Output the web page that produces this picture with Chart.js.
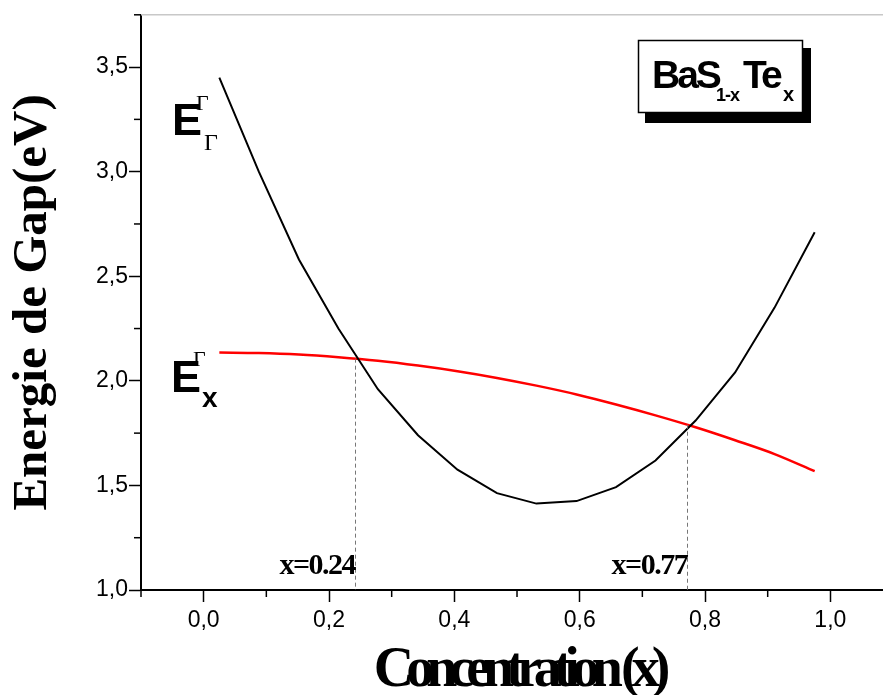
<!DOCTYPE html>
<html>
<head>
<meta charset="utf-8">
<script src="https://cdn.jsdelivr.net/npm/chart.js@4"></script>
<style>
  body { margin: 0; background: #fff; }
  #conteneur { width: 883px; height: 695px; }
</style>
</head>
<body>
<div id="conteneur"><canvas id="graficoGap"></canvas></div>
<script>
// concentration x de BaS(1-x)Te(x)
var concentracoes = [0.025, 0.088, 0.152, 0.215, 0.278, 0.342, 0.405, 0.468, 0.531, 0.595, 0.658, 0.721, 0.785, 0.848, 0.911, 0.975];
// gap direct Gamma-Gamma (eV)
var gapGammaGamma = [3.45, 3.00, 2.58, 2.25, 1.96, 1.74, 1.575, 1.463, 1.413, 1.425, 1.492, 1.619, 1.81, 2.04, 2.35, 2.71];
// gap indirect Gamma-X (eV)
var gapGammaX = [2.135, 2.133, 2.126, 2.113, 2.096, 2.073, 2.046, 2.014, 1.977, 1.935, 1.887, 1.835, 1.778, 1.716, 1.650, 1.568];

// points de croisement des deux gaps
var croisementX = [0.24, 0.77];
var croisementY = [2.106, 1.79];
var croisementTexte = ["x=0.24", "x=0.77"];

var xTicks = [0.0, 0.2, 0.4, 0.6, 0.8, 1.0];
var xTicksMineurs = [-0.1, 0.1, 0.3, 0.5, 0.7, 0.9];
var yTicks = [1.0, 1.5, 2.0, 2.5, 3.0, 3.5];
var yTicksMineurs = [1.25, 1.75, 2.25, 2.75, 3.25, 3.75];

var policeTicks = "'Liberation Sans', Arial, sans-serif";
var policeSerif = "'Liberation Serif', 'Times New Roman', serif";

function virgule(v) {
  return v.toFixed(1).replace(".", ",");
}

var dados = {
  datasets: [
    {
      label: "E Gamma-Gamma",
      data: concentracoes.map(function (x, i) { return { x: x, y: gapGammaGamma[i] }; }),
      borderColor: "#000",
      borderWidth: 2,
      pointRadius: 0,
      tension: 0,
    },
    {
      label: "E Gamma-X",
      data: concentracoes.map(function (x, i) { return { x: x, y: gapGammaX[i] }; }),
      borderColor: "#ff0000",
      borderWidth: 2.5,
      pointRadius: 0,
      cubicInterpolationMode: "monotone",
    },
  ],
};

// ticks mineurs, cadre du haut, pointillés et annotations
var decor = {
  id: "decor",
  afterDraw: function (chart) {
    var ctx = chart.ctx;
    var sx = chart.scales.x;
    var sy = chart.scales.y;
    var area = chart.chartArea;

    ctx.save();
    ctx.strokeStyle = "#000";
    ctx.lineWidth = 1.5;
    xTicksMineurs.forEach(function (v) {
      var px = sx.getPixelForValue(v);
      if (px < area.left - 1 || px > area.right) return;
      ctx.beginPath();
      ctx.moveTo(px, area.bottom);
      ctx.lineTo(px, area.bottom + 7);
      ctx.stroke();
    });
    yTicksMineurs.forEach(function (v) {
      var py = sy.getPixelForValue(v);
      ctx.beginPath();
      ctx.moveTo(area.left, py);
      ctx.lineTo(area.left - 7, py);
      ctx.stroke();
    });

    // cadre du haut
    ctx.strokeStyle = "#c8c8c8";
    ctx.lineWidth = 1.5;
    ctx.beginPath();
    ctx.moveTo(area.left, area.top);
    ctx.lineTo(area.right, area.top);
    ctx.stroke();

    // lignes de croisement
    ctx.strokeStyle = "#777";
    ctx.lineWidth = 1;
    ctx.setLineDash([4, 3]);
    for (var i = 0; i < croisementX.length; i++) {
      var cx = Math.round(sx.getPixelForValue(croisementX[i])) + 1.5;
      ctx.beginPath();
      ctx.moveTo(cx, sy.getPixelForValue(croisementY[i]));
      ctx.lineTo(cx, area.bottom);
      ctx.stroke();
    }
    ctx.setLineDash([]);

    ctx.fillStyle = "#000";
    ctx.textBaseline = "alphabetic";
    ctx.textAlign = "right";
    ctx.font = "bold 30px " + policeSerif;
    ctx.letterSpacing = "-1.5px";
    for (var j = 0; j < croisementX.length; j++) {
      ctx.fillText(croisementTexte[j], sx.getPixelForValue(croisementX[j]) + 1, 574);
    }
    ctx.letterSpacing = "0px";

    // étiquettes des courbes
    ctx.textAlign = "left";
    ctx.font = "bold 45px " + policeTicks;
    ctx.fillText("E", 172, 135);
    ctx.fillText("E", 171, 392);
    ctx.font = "22px " + policeSerif;
    ctx.fillText("Γ", 196, 110);
    ctx.fillText("Γ", 193, 366);
    ctx.font = "24px " + policeSerif;
    ctx.fillText("Γ", 204, 150);
    ctx.font = "bold 28px " + policeTicks;
    ctx.fillText("x", 202, 407);

    // cartouche du composé
    ctx.fillRect(645, 113, 166, 10);
    ctx.fillRect(803, 48, 8, 75);
    ctx.fillStyle = "#fff";
    ctx.fillRect(638, 40, 165, 73);
    ctx.strokeStyle = "#000";
    ctx.lineWidth = 1.5;
    ctx.strokeRect(638.5, 40.5, 164, 72);
    ctx.fillStyle = "#000";
    ctx.font = "bold 39px " + policeTicks;
    ctx.letterSpacing = "-3px";
    ctx.fillText("BaS", 652, 88);
    ctx.fillText("Te", 743, 88);
    ctx.letterSpacing = "-1px";
    ctx.font = "bold 18px " + policeTicks;
    ctx.fillText("1-x", 716, 101);
    ctx.font = "bold 20px " + policeTicks;
    ctx.fillText("x", 783, 101);

    // titre de l'axe x
    ctx.textAlign = "center";
    ctx.font = "bold 56px " + policeSerif;
    ctx.letterSpacing = "-8px";
    ctx.fillText("Concentration (x)", 518, 686);
    ctx.restore();
  },
};

var config = {
  type: "line",
  data: dados,
  options: {
    responsive: true,
    maintainAspectRatio: false,
    animation: false,
    layout: { padding: { top: 13, left: 0, right: 0, bottom: 0 } },
    plugins: {
      legend: { display: false },
      tooltip: { enabled: false },
    },
    scales: {
      x: {
        type: "linear",
        min: -0.1,
        max: 1.084,
        afterBuildTicks: function (s) {
          s.ticks = xTicks.map(function (v) { return { value: v }; });
        },
        afterFit: function (s) {
          s.height = 105;
        },
        grid: { drawOnChartArea: false, tickLength: 12, tickWidth: 1.5, tickColor: "#000" },
        border: { color: "#000", width: 2 },
        ticks: {
          color: "#000",
          padding: 5,
          maxRotation: 0,
          font: { family: policeTicks, size: 23 },
          callback: function (v) { return virgule(v); },
        },
      },
      y: {
        min: 1.0,
        max: 3.75,
        afterBuildTicks: function (s) {
          s.ticks = yTicks.map(function (v) { return { value: v }; });
        },
        afterFit: function (s) {
          s.width = 141;
        },
        grid: { drawOnChartArea: false, tickLength: 12, tickWidth: 1.5, tickColor: "#000" },
        border: { color: "#000", width: 2 },
        ticks: {
          color: "#000",
          padding: 1,
          font: { family: policeTicks, size: 23 },
          callback: function (v) { return virgule(v); },
        },
        title: {
          display: true,
          text: "Energie de Gap(eV)",
          color: "#000",
          padding: { top: 4, bottom: 0 },
          font: { family: policeSerif, size: 49, weight: "bold" },
        },
      },
    },
  },
  plugins: [decor],
};

var graficoGap = new Chart(document.getElementById("graficoGap"), config);
</script>
</body>
</html>
